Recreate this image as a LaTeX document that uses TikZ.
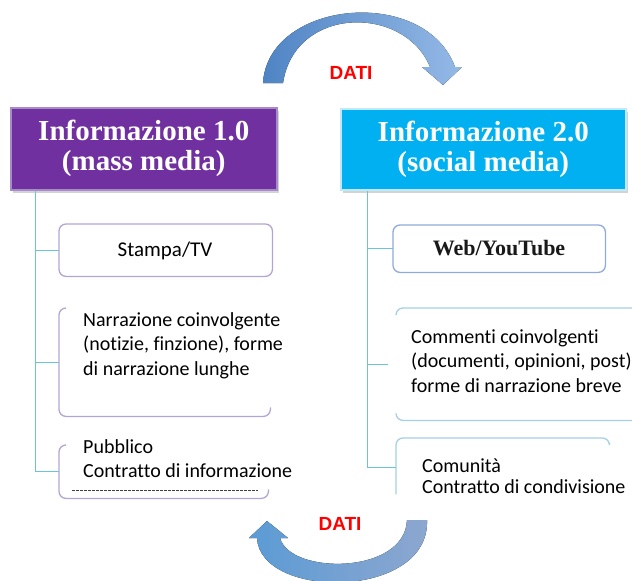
\documentclass[tikz,border=0pt]{standalone}
\usepackage{fontspec}
\setmainfont{Carlito}[Ligatures=NoCommon]
\newfontfamily\headfont{Liberation Serif}
\newfontfamily\labelfont{Liberation Sans}
\usetikzlibrary{calc,shadows}

\definecolor{purplehead}{HTML}{7030A0}
\definecolor{purpleedge}{HTML}{A58BC8}
\definecolor{cyanhead}{HTML}{00B0F0}
\definecolor{cyanedge}{HTML}{BFE8F8}
\definecolor{spinecol}{HTML}{6CC4DA}
\definecolor{lavline}{HTML}{B3A4D4}
\definecolor{blueline}{HTML}{8FAADC}
\definecolor{skyline}{HTML}{A5CFE6}
\definecolor{arrowdark}{HTML}{4F84C4}
\definecolor{arrowlight}{HTML}{94B9E6}
\definecolor{arrowgrey}{HTML}{8DA7CF}
\definecolor{arrowblue}{HTML}{5B9BD5}
\definecolor{datired}{HTML}{FF0000}

\tikzset{
  headbox/.style={anchor=north west, inner sep=0pt, align=center,
    text=white, font=\headfont\bfseries\fontsize{29}{30}\selectfont,
    drop shadow={opacity=0.35, shadow xshift=2pt, shadow yshift=-3pt}},
  area/.style={anchor=north west, inner sep=0pt, draw=none},
  spine/.style={draw=spinecol, line width=1pt},
  lavborder/.style={draw=lavline, line width=1.3pt, rounded corners=7pt},
  skyborder/.style={draw=skyline, line width=1.3pt, rounded corners=7pt},
  bodytext/.style={anchor=base west, inner sep=0pt, align=left,
    font=\fontsize{20}{24.5}\selectfont},
  datilabel/.style={text=datired, font=\labelfont\bfseries\fontsize{19}{20}\selectfont},
}

\begin{document}
\begin{tikzpicture}[x=1pt,y=-1pt]
\useasboundingbox (0,0) rectangle (632,581);

% curved arrow at the top, left to right
\fill[left color=arrowdark, right color=arrowlight]
  (263,83) .. controls (268,0) and (425,-15) .. (455,67)
  -- (462,67) -- (443,85) -- (422,67) -- (430,67)
  .. controls (405,5) and (295,5) .. (283,83) -- cycle;
\node[datilabel] (d1) at (351,73) {DATI};

% curved arrow at the bottom, right to left
\fill[left color=arrowblue, right color=arrowgrey]
  (427,520) .. controls (430,600) and (260,600) .. (257,538)
  -- (249,538) -- (267,521) -- (288,538) -- (280,538)
  .. controls (290,575) and (405,575) .. (407,520) -- cycle;
\node[datilabel] (d2) at (340,524) {DATI};

% headers
\node[headbox, fill=purplehead, draw=purpleedge, line width=1.5pt,
  minimum width=266pt, minimum height=82pt] (h1) at (10,107)
  {Informazione 1.0\\(mass media)};
\node[headbox, fill=cyanhead, draw=cyanedge, line width=1.5pt,
  minimum width=285pt, minimum height=81pt] (h2) at (340,108)
  {Informazione 2.0\\(social media)};

% left column
\node[area, minimum width=213pt, minimum height=52pt] (lb1) at (59,224) {};
\node[area, minimum width=211pt, minimum height=108pt] (lb2) at (59,308) {};
\node[area, minimum width=209pt, minimum height=53pt] (lb3) at (59,445) {};

\draw[lavborder] (lb1.north west) rectangle (lb1.south east);
\draw[lavborder] ($(lb2.north west)+(6,0)$) -- (lb2.north west)
  -- (lb2.south west) -- (lb2.south east) -- ($(lb2.south east)+(0,-9)$);
\draw[lavborder] ($(lb3.north west)+(6,0)$) -- (lb3.north west)
  -- (lb3.south west) -- (lb3.south east) -- ($(lb3.south east)+(0,-9)$);

\node[anchor=base, inner sep=0pt, font=\fontsize{21}{24}\selectfont]
  (t1) at (165,256) {Stampa/TV};
\node[bodytext] (t2) at (83,375)
  {Narrazione coinvolgente\\(notizie, finzione), forme\\di narrazione lunghe};
\node[bodytext, font=\fontsize{20}{24}\selectfont] (t3) at (83,477)
  {Pubblico\\Contratto di informazione};
\draw[gray!50!black, line width=1.5pt, dash pattern=on 3pt off 1pt]
  ($(lb3.south west)+(13,-8)$) -- ($(lb3.south east)+(-10,-8)$);

\coordinate (ls) at ($(h1.south west)+(25,0)$);
\draw[spine] (ls) |- (lb3.west);
\draw[spine] (ls |- lb1.west) -- (lb1.west);
\draw[spine] (ls |- lb2.west) -- (lb2.west);

% right column
\node[area, minimum width=212pt, minimum height=47pt] (rb1) at (393,225) {};
\node[area, minimum width=250pt, minimum height=112pt] (rb2) at (396,308) {};
\node[area, minimum width=213pt, minimum height=58pt] (rb3) at (396,438) {};

\draw[draw=blueline, line width=1.3pt, rounded corners=7pt]
  (rb1.north west) rectangle (rb1.south east);
\draw[skyborder] ($(rb2.north west)+(0,6)$) -- (rb2.north west) -- (rb2.north east);
\draw[skyborder] ($(rb2.south west)+(0,-6)$) -- (rb2.south west) -- (rb2.south east);
\draw[skyborder] ($(rb3.south west)+(0,-2)$) -- (rb3.north west)
  -- (rb3.north east) -- ($(rb3.north east)+(0,5)$);

\node[anchor=base, inner sep=0pt, text=black!90,
  font=\headfont\bfseries\fontsize{22}{24}\selectfont]
  (t4) at (499,255) {Web/YouTube};
\node[bodytext] (t5) at (411,392)
  {Commenti coinvolgenti\\(documenti, opinioni, post)\\forme di narrazione breve};
\node[bodytext, font=\fontsize{20}{21}\selectfont] (t6) at (422,493)
  {Comunità\\Contratto di condivisione};

\coordinate (rs) at ($(h2.south west)+(27,0)$);
\draw[spine] (rs) |- (rb3.west);
\draw[spine] (rs |- rb1.west) -- (rb1.west);
\draw[spine] (rs |- rb2.west) -- ($(rb2.west)+(-8,0)$);
\end{tikzpicture}
\end{document}
